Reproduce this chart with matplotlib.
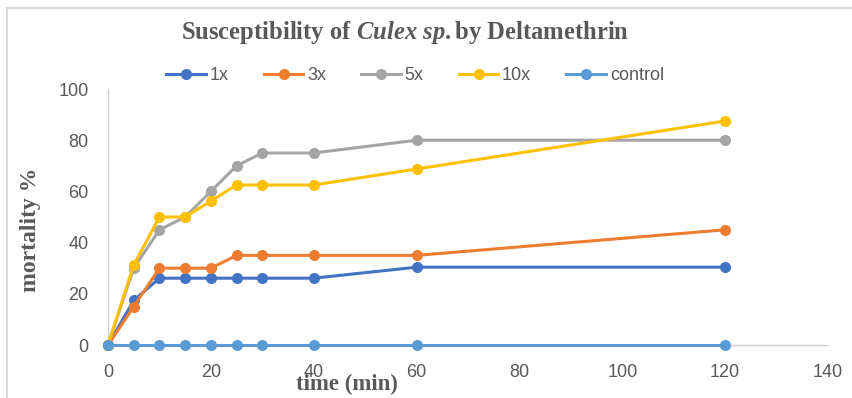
import matplotlib
matplotlib.use("Agg")
import matplotlib.pyplot as plt
from matplotlib.lines import Line2D

times = [0, 5, 10, 15, 20, 25, 30, 40, 60, 120]
s_1x = [0, 17.4, 26.1, 26.1, 26.1, 26.1, 26.1, 26.1, 30.4, 30.4]
s_3x = [0, 15, 30, 30, 30, 35, 35, 35, 35, 45]
s_5x = [0, 30, 45, 50, 60, 70, 75, 75, 80, 80]
s_10x = [0, 31.25, 50, 50, 56.25, 62.5, 62.5, 62.5, 68.75, 87.5]
s_control = [0, 0, 0, 0, 0, 0, 0, 0, 0, 0]
series_names = ["1x", "3x", "5x", "10x", "control"]
colors = ["#4472C4", "#ED7D31", "#A5A5A5", "#FFC000", "#5B9BD5"]
x_ticks = [0, 20, 40, 60, 80, 100, 120, 140]
y_ticks = [0, 20, 40, 60, 80, 100]

plt.rcParams["mathtext.fontset"] = "custom"
plt.rcParams["mathtext.it"] = "Liberation Serif:italic:bold"
plt.rcParams["mathtext.rm"] = "Liberation Serif:bold"
plt.rcParams["mathtext.bf"] = "Liberation Serif:bold"

sans = "Liberation Sans"
serif = "Liberation Serif"
txt = "#595959"

W, H = 852, 398
fig = plt.figure(figsize=(W / 100, H / 100), dpi=100)
ax = fig.add_axes([108 / W, 1 - 345 / H, 720 / W, 256 / H])

data = [s_1x, s_3x, s_5x, s_10x, s_control]
for i, (name, vals, c) in enumerate(zip(series_names, data, colors)):
    ax.plot(times, vals, color=c, lw=2.2, marker="o", markersize=8,
            markeredgewidth=0, label=name, zorder=3 + i, clip_on=False)

ax.set_xlim(0, 140)
ax.set_ylim(0, 100)
ax.set_xticks(x_ticks)
ax.set_yticks(y_ticks)
ax.tick_params(length=0, labelsize=13, colors=txt)
ax.tick_params(axis="x", pad=14)
ax.tick_params(axis="y", pad=14)
for lab in ax.get_xticklabels() + ax.get_yticklabels():
    lab.set_fontfamily(sans)
for s in ["top", "right"]:
    ax.spines[s].set_visible(False)
for s in ["left", "bottom"]:
    ax.spines[s].set_color("#d0d0d0")
    ax.spines[s].set_linewidth(1.0)

fig.text(405 / W, 1 - 33 / H,
         r"Susceptibility of $\mathit{Culex\ sp.}$by Deltamethrin",
         ha="center", va="center", fontsize=17.7, fontweight="bold",
         family=serif, color=txt)

fig.text(31 / W, 1 - 230 / H, "mortality %", rotation=90, ha="center",
         va="center", fontsize=17, fontweight="bold", family=serif, color=txt)
fig.text(347 / W, 1 - 384 / H, "time (min)", ha="center", va="center",
         fontsize=16.5, fontweight="bold", family=serif, color=txt)

handles = [Line2D([], [], color=c, lw=2.2, marker="o", markersize=8,
                  markeredgewidth=0) for c in colors]
leg = fig.legend(handles, series_names, loc="center", ncol=5,
                 bbox_to_anchor=(415 / W, 1 - 76 / H), frameon=False,
                 handlelength=2.2, columnspacing=1.95, handletextpad=0.2,
                 prop={"family": sans, "size": 13})
for t in leg.get_texts():
    t.set_color(txt)

# chart border
fig.add_artist(Line2D([7 / W, 7 / W], [0, 1 - 8 / H], color="#d9d9d9", lw=1.5,
                      transform=fig.transFigure))
fig.add_artist(Line2D([7 / W, 1], [1 - 8 / H, 1 - 8 / H], color="#d9d9d9",
                      lw=1.5, transform=fig.transFigure))

fig.savefig("out.png", dpi=100)
